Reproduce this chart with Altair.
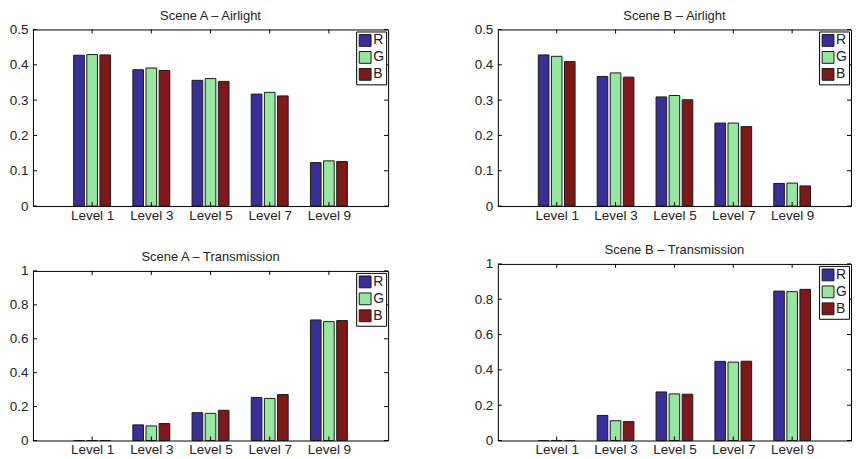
import altair as alt
import pandas as pd

LEVELS = [1, 3, 5, 7, 9]
CHANNELS = ["R", "G", "B"]
COLORS = ["#3a2f96", "#97e7a0", "#7f1818"]

A_AIR_R = [0.427, 0.386, 0.356, 0.317, 0.123]
A_AIR_G = [0.429, 0.391, 0.361, 0.322, 0.128]
A_AIR_B = [0.428, 0.384, 0.353, 0.312, 0.126]

B_AIR_R = [0.428, 0.367, 0.309, 0.235, 0.064]
B_AIR_G = [0.424, 0.377, 0.313, 0.235, 0.065]
B_AIR_B = [0.409, 0.365, 0.301, 0.225, 0.057]

A_TR_R = [0.0, 0.092, 0.164, 0.254, 0.711]
A_TR_G = [0.0, 0.086, 0.160, 0.248, 0.701]
A_TR_B = [0.0, 0.100, 0.178, 0.271, 0.707]

B_TR_R = [0.0, 0.142, 0.275, 0.448, 0.846]
B_TR_G = [0.0, 0.112, 0.264, 0.444, 0.843]
B_TR_B = [0.0, 0.107, 0.262, 0.449, 0.856]

AIR_TICKS = [0, 0.1, 0.2, 0.3, 0.4, 0.5]
TR_TICKS = [0, 0.2, 0.4, 0.6, 0.8, 1]

FONT = "Liberation Sans"
TXT = "#222222"
FS = 13.5


def long_df(r, g, b):
    rows = []
    for series, ch in zip([r, g, b], CHANNELS):
        for lv, v in zip(LEVELS, series):
            rows.append({"level": lv, "ch": ch, "value": v})
    return pd.DataFrame(rows)


def panel(title, r, g, b, ydom, yvals, W, H):
    df = long_df(r, g, b)
    yscale = alt.Scale(domain=ydom, nice=False, zero=True)
    yaxis = alt.Axis(values=yvals, format="~g", title=None, grid=False, ticks=False,
                     tickSize=0, labelPadding=5, domain=False, labelFont=FONT,
                     labelFontSize=FS, labelColor=TXT)
    xscale = alt.Scale(domain=[-1, 11], nice=False, zero=False)
    xaxis = alt.Axis(values=LEVELS, labelExpr="'Level ' + datum.value", title=None,
                     grid=False, ticks=False, tickSize=0, labelPadding=2, domain=False,
                     labelFont=FONT, labelFontSize=FS, labelColor=TXT)

    bars = alt.Chart(df).transform_calculate(
        i="indexof(['R','G','B'], datum.ch)"
    ).transform_calculate(
        x0="datum.level + (datum.i - 1) * 0.444 - 0.18",
        x1="datum.level + (datum.i - 1) * 0.444 + 0.18",
    ).mark_bar(stroke="#1a1a1a", strokeWidth=1).encode(
        x=alt.X("x0:Q", scale=xscale, axis=xaxis),
        x2="x1:Q",
        y=alt.Y("value:Q", scale=yscale, axis=yaxis),
        y2=alt.datum(0),
        color=alt.Color(
            "ch:N",
            scale=alt.Scale(domain=CHANNELS, range=COLORS),
            legend=alt.Legend(
                title=None, orient="top-right", offset=2, strokeColor="black",
                fillColor="white", padding=2, symbolType="square", symbolSize=140,
                symbolStrokeColor="#1a1a1a", symbolStrokeWidth=1, symbolOpacity=1,
                labelFontSize=14, labelFont=FONT, labelColor=TXT, labelOffset=1,
                rowPadding=1,
            ),
        ),
    )

    ytdf = pd.DataFrame({"value": yvals})
    xtdf = pd.DataFrame({"x0": LEVELS})
    yl = alt.Chart(ytdf).mark_rule(color="black", strokeWidth=1).encode(
        y=alt.Y("value:Q", scale=yscale, axis=yaxis), x=alt.value(0), x2=alt.value(4))
    yr = alt.Chart(ytdf).mark_rule(color="black", strokeWidth=1).encode(
        y=alt.Y("value:Q", scale=yscale, axis=yaxis), x=alt.value(W - 4), x2=alt.value(W))
    xt = alt.Chart(xtdf).mark_rule(color="black", strokeWidth=1).encode(
        x=alt.X("x0:Q", scale=xscale, axis=xaxis), y=alt.value(0), y2=alt.value(4))
    xb = alt.Chart(xtdf).mark_rule(color="black", strokeWidth=1).encode(
        x=alt.X("x0:Q", scale=xscale, axis=xaxis), y=alt.value(H - 4), y2=alt.value(H))

    return alt.layer(bars, yl, yr, xt, xb).properties(
        width=W, height=H,
        title=alt.TitleParams(title, font=FONT, fontSize=13, fontWeight="normal",
                              color=TXT, offset=0, anchor="middle", frame="group"),
    )


a_air = panel("Scene A \u2013 Airlight", A_AIR_R, A_AIR_G, A_AIR_B, [0, 0.5], AIR_TICKS, 356, 177)
a_tr = panel("Scene A \u2013 Transmission", A_TR_R, A_TR_G, A_TR_B, [0, 1], TR_TICKS, 356, 170)
b_air = panel("Scene B \u2013 Airlight", B_AIR_R, B_AIR_G, B_AIR_B, [0, 0.5], AIR_TICKS, 354, 177)
b_tr = panel("Scene B \u2013 Transmission", B_TR_R, B_TR_G, B_TR_B, [0, 1], TR_TICKS, 354, 177)

left = alt.vconcat(a_air, a_tr, spacing=28).resolve_scale(color="independent").resolve_legend(color="independent")
right = alt.vconcat(b_air, b_tr, spacing=21).resolve_scale(color="independent").resolve_legend(color="independent")

chart = alt.hconcat(left, right, spacing=84).resolve_scale(color="independent").resolve_legend(
    color="independent"
).properties(padding=0, background="white").configure_view(stroke="black", strokeWidth=1)

chart.save("out.html", embed_options={"renderer": "svg", "actions": False})
